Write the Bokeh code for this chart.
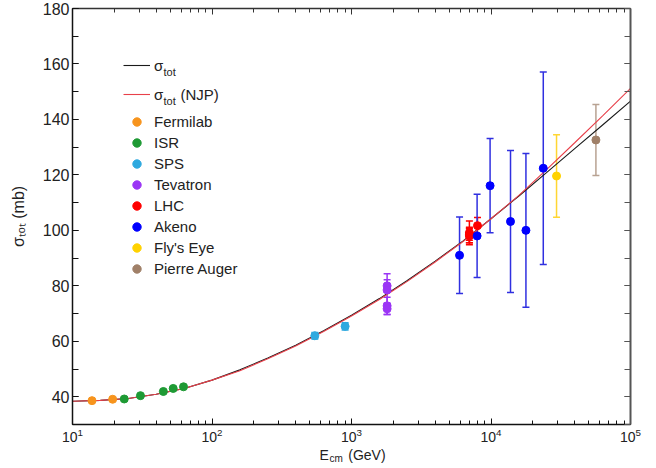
import numpy as np
from bokeh.plotting import figure
from bokeh.models import (ColumnDataSource, Whisker, TeeHead, Legend, LegendItem, Label, Title,
                          Range1d, LogAxis, LinearAxis, SingleIntervalTicker, LogTicker,
                          CustomJSTickFormatter)
from bokeh.embed import file_html
from bokeh.resources import INLINE

# ---------------- data ----------------
curve_E = [10, 15.85, 25.12, 39.81, 63.1, 100, 158.5, 251.2, 398.1, 631, 1000, 1585,
           2512, 3981, 6310, 10000, 15849, 25119, 39811, 63096, 100000]
sigma_tot = [38.4, 38.7, 39.4, 40.9, 43.0, 46.0, 49.7, 54.0, 58.6, 63.8, 69.4, 75.4,
             81.9, 88.9, 96.2, 104.2, 112.4, 120.9, 129.5, 138.0, 146.6]
sigma_njp = [38.4, 38.7, 39.4, 40.9, 43.0, 46.0, 49.4, 53.7, 58.3, 63.5, 69.1, 75.1,
             81.6, 88.6, 96.0, 104.2, 112.6, 122.0, 131.6, 141.3, 151.2]

fermilab_E = [13.8, 19.4]
fermilab_sig = [38.6, 39.1]
fermilab_err = [0.3, 0.3]

isr_E = [23.5, 30.7, 44.8, 52.7, 62.5]
isr_sig = [39.2, 40.4, 41.9, 43.0, 43.6]
isr_err = [0.3, 0.3, 0.3, 0.3, 0.3]

sps_E = [546, 900]
sps_sig = [62.0, 65.4]
sps_err = [1.2, 1.3]

tev_E = [1800, 1800, 1800, 1800]
tev_sig = [80.0, 78.5, 72.8, 71.7]
tev_err = [2.2, 5.9, 3.1, 2.0]

lhc_E = [7000, 7000, 7000, 7000, 8000]
lhc_sig = [98.3, 98.6, 99.1, 98.0, 101.7]
lhc_err = [2.8, 2.2, 4.3, 2.5, 2.9]

akeno_E = [5950, 7950, 9850, 13800, 17800, 23700]
akeno_sig = [91.0, 98.0, 116.1, 103.2, 100.0, 122.4]
akeno_err = [13.8, 15.0, 17.0, 25.6, 27.7, 34.7]

fly_E = [29500]
fly_sig = [119.6]
fly_err = [14.9]

auger_E = [56500]
auger_sig = [132.6]
auger_err = [12.8]

datasets = [
    ("Fermilab", fermilab_E, fermilab_sig, fermilab_err, "#f7941d", "#f7941d"),
    ("ISR", isr_E, isr_sig, isr_err, "#1e9a34", "#1e9a34"),
    ("SPS", sps_E, sps_sig, sps_err, "#2ea9df", "#2ea9df"),
    ("Tevatron", tev_E, tev_sig, tev_err, "#9b35f5", "#9b35f5"),
    ("LHC", lhc_E, lhc_sig, lhc_err, "#ff0000", "#ff0000"),
    ("Akeno", akeno_E, akeno_sig, akeno_err, "#0000ff", "#3030e0"),
    ("Fly's Eye", fly_E, fly_sig, fly_err, "#ffd200", "#ffd633"),
    ("Pierre Auger", auger_E, auger_sig, auger_err, "#a08068", "#b8a292"),
]

FONT = "Liberation Sans"
FRAME_BOTTOM = 424  # screen y of the plot frame's bottom edge

p = figure(frame_width=558, frame_height=FRAME_BOTTOM - 8, x_axis_type="log",
           x_range=Range1d(10, 1e5), y_range=Range1d(30, 180),
           output_backend="svg", toolbar_location=None,
           min_border_left=72, min_border_right=26, min_border_top=8,
           min_border_bottom=468 - FRAME_BOTTOM)
p.xgrid.visible = False
p.ygrid.visible = False
p.outline_line_color = None
p.background_fill_color = "white"

# curves
r_tot = p.line(curve_E, sigma_tot, line_color="#1a1a1a", line_width=1.1)
r_njp = p.line(curve_E, sigma_njp, line_color="#e8404a", line_width=1.1)

# data points with error bars
point_renderers = []
for name, E, s, e, col, ecol in datasets:
    src = ColumnDataSource(dict(x=E, y=s,
                                upper=[a + b for a, b in zip(s, e)],
                                lower=[a - b for a, b in zip(s, e)]))
    if max(e) > 0.5:
        w = Whisker(source=src, base="x", upper="upper", lower="lower",
                    line_color=ecol, line_width=1.5,
                    upper_head=TeeHead(size=7, line_color=ecol, line_width=1.5),
                    lower_head=TeeHead(size=7, line_color=ecol, line_width=1.5))
        p.add_layout(w)
    r = p.scatter("x", "y", source=src, size=8, marker="circle",
                  fill_color=col, line_color=col)
    point_renderers.append((name, r))

# axes styling
for ax in [p.xaxis[0], p.yaxis[0]]:
    ax.axis_line_color = "#111111"
    ax.axis_line_width = 1.5
    ax.major_tick_line_color = "#111111"
    ax.minor_tick_line_color = "#111111"
    ax.major_tick_out = 0
    ax.minor_tick_out = 0
    ax.major_label_text_font = FONT
    ax.major_label_text_color = "#222222"

p.yaxis[0].ticker = SingleIntervalTicker(interval=20, num_minor_ticks=2)
p.yaxis[0].major_tick_in = 6
p.yaxis[0].minor_tick_in = 6
p.yaxis[0].major_label_text_font_size = "16px"
p.yaxis[0].major_label_standoff = 3
p.yaxis[0].axis_label = "σₜₒₜ (mb)"
p.yaxis[0].axis_label_text_font = FONT
p.yaxis[0].axis_label_text_font_size = "16px"
p.yaxis[0].axis_label_text_font_style = "normal"
p.yaxis[0].axis_label_text_color = "#222222"
p.yaxis[0].axis_label_standoff = 13

p.xaxis[0].ticker = LogTicker(num_minor_ticks=10)
p.xaxis[0].major_tick_in = 6
p.xaxis[0].minor_tick_in = 4
p.xaxis[0].major_label_text_font_size = "14px"
p.xaxis[0].major_label_standoff = 3

blank = CustomJSTickFormatter(code="return ''")
top_ax = LogAxis(ticker=LogTicker(num_minor_ticks=10), formatter=blank,
                 axis_line_color="#333333", axis_line_width=1.5,
                 major_tick_in=6, minor_tick_in=4, major_tick_out=0, minor_tick_out=0,
                 major_tick_line_color="#333333", minor_tick_line_color="#333333",
                 major_label_standoff=0)
right_ax = LinearAxis(ticker=SingleIntervalTicker(interval=20, num_minor_ticks=2),
                      formatter=blank,
                      axis_line_color="#555555", axis_line_width=2,
                      major_tick_in=6, minor_tick_in=6, major_tick_out=0, minor_tick_out=0,
                      major_tick_line_color="#555555", minor_tick_line_color="#555555",
                      major_label_standoff=0)
p.add_layout(top_ax, "above")
p.add_layout(right_ax, "right")

# x axis label: E_cm (GeV), built from two titles below the axis
NB = "\u00a0"
xt = Title(text="E" + NB * 5 + "(GeV)", align="left", offset=247, standoff=0,
           text_font=FONT, text_font_size="14px", text_font_style="normal",
           text_color="#222222")
xs = Title(text="cm", align="left", offset=257, standoff=-20, vertical_align="top",
           text_font=FONT, text_font_size="10px", text_font_style="normal",
           text_color="#222222")
p.add_layout(xt, "below")
p.add_layout(xs, "below")

# legends
leg1 = Legend(items=[LegendItem(label="σ", renderers=[r_tot]),
                     LegendItem(label="σ", renderers=[r_njp])],
              location=(51, FRAME_BOTTOM - 104), glyph_width=27, glyph_height=20,
              label_height=20, spacing=9, label_standoff=4, padding=0, margin=0,
              label_text_font=FONT, label_text_font_size="15px",
              label_text_color="#222222",
              background_fill_alpha=0, border_line_color=None)
leg2 = Legend(items=[LegendItem(label=n, renderers=[r]) for n, r in point_renderers],
              location=(51, FRAME_BOTTOM - 279), glyph_width=27, glyph_height=21,
              label_height=21, spacing=0, label_standoff=4, padding=0, margin=0,
              label_text_font=FONT, label_text_font_size="15px",
              label_text_color="#222222",
              background_fill_alpha=0, border_line_color=None)
p.add_layout(leg1)
p.add_layout(leg2)

sub_kw = dict(x_units="screen", y_units="screen", text_font=FONT, text_color="#222222",
              text_align="left", text_baseline="middle")
p.add_layout(Label(x=91, y=FRAME_BOTTOM - 71, text="tot", text_font_size="11px", **sub_kw))
p.add_layout(Label(x=91, y=FRAME_BOTTOM - 100, text="tot", text_font_size="11px", **sub_kw))
p.add_layout(Label(x=108, y=FRAME_BOTTOM - 94, text="(NJP)", text_font_size="15px", **sub_kw))

open("out.html", "w").write(file_html(p, INLINE))
